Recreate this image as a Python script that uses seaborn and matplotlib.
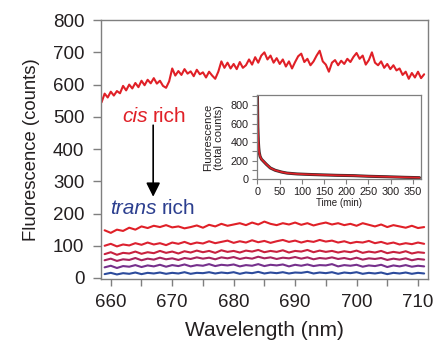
import numpy as np
import pandas as pd
import matplotlib.pyplot as plt
import seaborn as sns
from matplotlib.ticker import MultipleLocator

sns.set_theme(style="ticks")
plt.rcParams['font.family'] = ['Liberation Sans', 'DejaVu Sans']

# ---- spectra ----
# cis rich spectrum, every 0.5 nm from 658.5 nm
wl_top = np.arange(658.5, 711.25, 0.5)
cis_rich = [545, 572, 560, 578, 566, 580, 573, 596, 582, 600, 588, 605, 592, 612, 598, 615,
            604, 620, 603, 612, 596, 590, 610, 650, 628, 642, 630, 648, 634, 641, 626, 646,
            632, 638, 622, 640, 628, 618, 640, 672, 652, 668, 650, 664, 648, 670, 652, 660,
            678, 662, 685, 668, 690, 700, 678, 690, 668, 682, 664, 678, 656, 672, 650, 670,
            688, 696, 670, 680, 660, 672, 690, 705, 672, 662, 640, 668, 676, 660, 674, 664,
            680, 670, 686, 698, 680, 690, 662, 676, 700, 668, 660, 672, 652, 664, 648, 660,
            644, 650, 630, 640, 618, 636, 622, 640, 620, 632]

# later spectra, every 1 nm from 659 nm
wl = np.arange(659, 712, 1)
scan_1 = [148, 140, 150, 146, 156, 150, 160, 155, 162, 158, 164, 157, 160, 154, 158, 163, 156, 165,
          160, 168, 162, 166, 170, 164, 172, 166, 175, 168, 164, 170, 166, 172, 165, 170, 163, 168,
          172, 166, 170, 164, 168, 162, 170, 165, 160, 166, 158, 164, 160, 156, 162, 155, 158]
scan_2 = [100, 106, 98, 104, 101, 108, 103, 110, 104, 108, 102, 110, 106, 112, 105, 110, 107, 114,
          108, 112, 116, 109, 114, 110, 117, 111, 115, 109, 114, 118, 112, 116, 110, 115, 112, 118,
          113, 116, 110, 114, 108, 112, 110, 115, 108, 112, 106, 110, 104, 108, 105, 110, 106]
scan_3 = [74, 80, 72, 78, 76, 82, 75, 80, 77, 84, 78, 82, 76, 83, 79, 85, 80, 84, 78, 86, 81, 84,
          79, 85, 82, 87, 80, 84, 81, 86, 79, 84, 82, 87, 80, 85, 81, 84, 79, 83, 80, 85, 78, 82,
          79, 84, 77, 81, 78, 83, 76, 80, 78]
scan_4 = [55, 60, 53, 58, 56, 62, 55, 60, 57, 63, 58, 61, 56, 62, 59, 64, 60, 63, 58, 64, 61, 65,
          59, 63, 60, 66, 61, 64, 59, 63, 61, 65, 60, 64, 58, 62, 60, 64, 59, 62, 58, 63, 57, 61,
          59, 62, 56, 60, 57, 61, 55, 59, 57]
scan_5 = [33, 38, 31, 37, 35, 40, 34, 39, 36, 41, 35, 40, 37, 42, 36, 40, 38, 43, 37, 41, 39, 42,
          36, 40, 38, 43, 37, 41, 39, 42, 36, 41, 38, 42, 37, 40, 39, 43, 36, 40, 38, 41, 35, 39,
          37, 41, 34, 39, 36, 40, 35, 38, 36]
trans_rich = [12, 16, 11, 15, 13, 17, 12, 16, 14, 17, 13, 16, 14, 18, 13, 16, 15, 18, 14, 17, 15,
              18, 13, 17, 15, 19, 14, 17, 15, 18, 14, 17, 16, 19, 14, 17, 15, 18, 13, 17, 15, 18,
              13, 16, 14, 17, 12, 16, 14, 17, 13, 16, 14]

scans = [scan_1, scan_2, scan_3, scan_4, scan_5, trans_rich]
scan_colors = ["#e02027", "#dc2130", "#c8213e", "#a8245e", "#76308c", "#2c4b9c"]

# inset: total counts vs time
time_min = [0, 0.5, 1, 2, 3, 4, 6, 9, 14, 20, 29, 40, 55, 67, 90, 115, 141, 180, 216, 250, 291, 330, 365]
total_counts = [900, 720, 560, 420, 340, 290, 245, 215, 190, 160, 120, 95, 75, 64, 55, 50, 46, 40,
                37, 30, 25, 19, 15]

gray = "#7f7f7f"
txt = "#231f20"
red = "#e02027"
blue = "#2c3f8f"

fig = plt.figure(figsize=(4.37, 3.47), dpi=100)
ax = fig.add_axes([0.231, 0.197, 0.748, 0.745])

sns.lineplot(x=wl_top, y=cis_rich, color=red, lw=1.5, estimator=None, ax=ax)
for vals, c in zip(scans, scan_colors):
    sns.lineplot(x=wl, y=vals, color=c, lw=1.5, estimator=None, ax=ax)

ax.set_xlim(658.4, 711.6)
ax.set_ylim(-2, 800)
ax.xaxis.set_major_locator(MultipleLocator(10))
ax.xaxis.set_minor_locator(MultipleLocator(5))
ax.yaxis.set_major_locator(MultipleLocator(100))
ax.tick_params(axis="x", which="both", direction="out", length=5, width=1, color=gray,
               labelsize=13.5, labelcolor=txt, pad=6)
ax.tick_params(axis="y", which="both", direction="out", length=6, width=1, color=gray,
               labelsize=13.5, labelcolor=txt, pad=6)
for s in ax.spines.values():
    s.set_color(gray)
    s.set_linewidth(1)
ax.set_xlabel("Wavelength (nm)", fontsize=15, color=txt, labelpad=7)
ax.set_ylabel("Fluorescence (counts)", fontsize=13.3, color=txt, labelpad=9)

# cis / trans labels
ax.text(666.05, 484, "cis", color=red, fontsize=15, style="italic", ha="right", va="baseline")
ax.text(666.8, 484, "rich", color=red, fontsize=15, ha="left", va="baseline")
ax.text(667.5, 200, "trans", color=blue, fontsize=15, style="italic", ha="right", va="baseline")
ax.text(668.3, 200, "rich", color=blue, fontsize=15, ha="left", va="baseline")
ax.annotate("", xy=(666.9, 252), xytext=(666.9, 474),
            arrowprops=dict(arrowstyle="-|>,head_length=0.6,head_width=0.3",
                            color="black", lw=1.2, mutation_scale=14, shrinkA=0, shrinkB=0))

# inset
ins = fig.add_axes([0.587, 0.484, 0.376, 0.242])
ins.set_facecolor("white")
sns.lineplot(x=time_min, y=total_counts, color="#3a2a2a", lw=2.2, estimator=None, ax=ins)
sns.lineplot(x=time_min, y=total_counts, color=red, lw=1.2, estimator=None, ax=ins)
ins.set_xlim(-2, 368)
ins.set_ylim(0, 908)
ins.xaxis.set_major_locator(MultipleLocator(50))
ins.yaxis.set_major_locator(MultipleLocator(200))
ins.yaxis.set_minor_locator(MultipleLocator(100))
ins.tick_params(which="both", direction="out", length=3.5, width=0.8, color=gray,
                labelsize=7.8, labelcolor=txt, pad=2)
for s in ins.spines.values():
    s.set_color(gray)
    s.set_linewidth(0.9)
ins.set_xlabel("Time (min)", fontsize=7, color=txt, labelpad=1)
ins.set_ylabel("Fluorescence\n(total counts)", fontsize=8, color=txt, labelpad=5, linespacing=1.05)

fig.savefig("out.png", dpi=100)
